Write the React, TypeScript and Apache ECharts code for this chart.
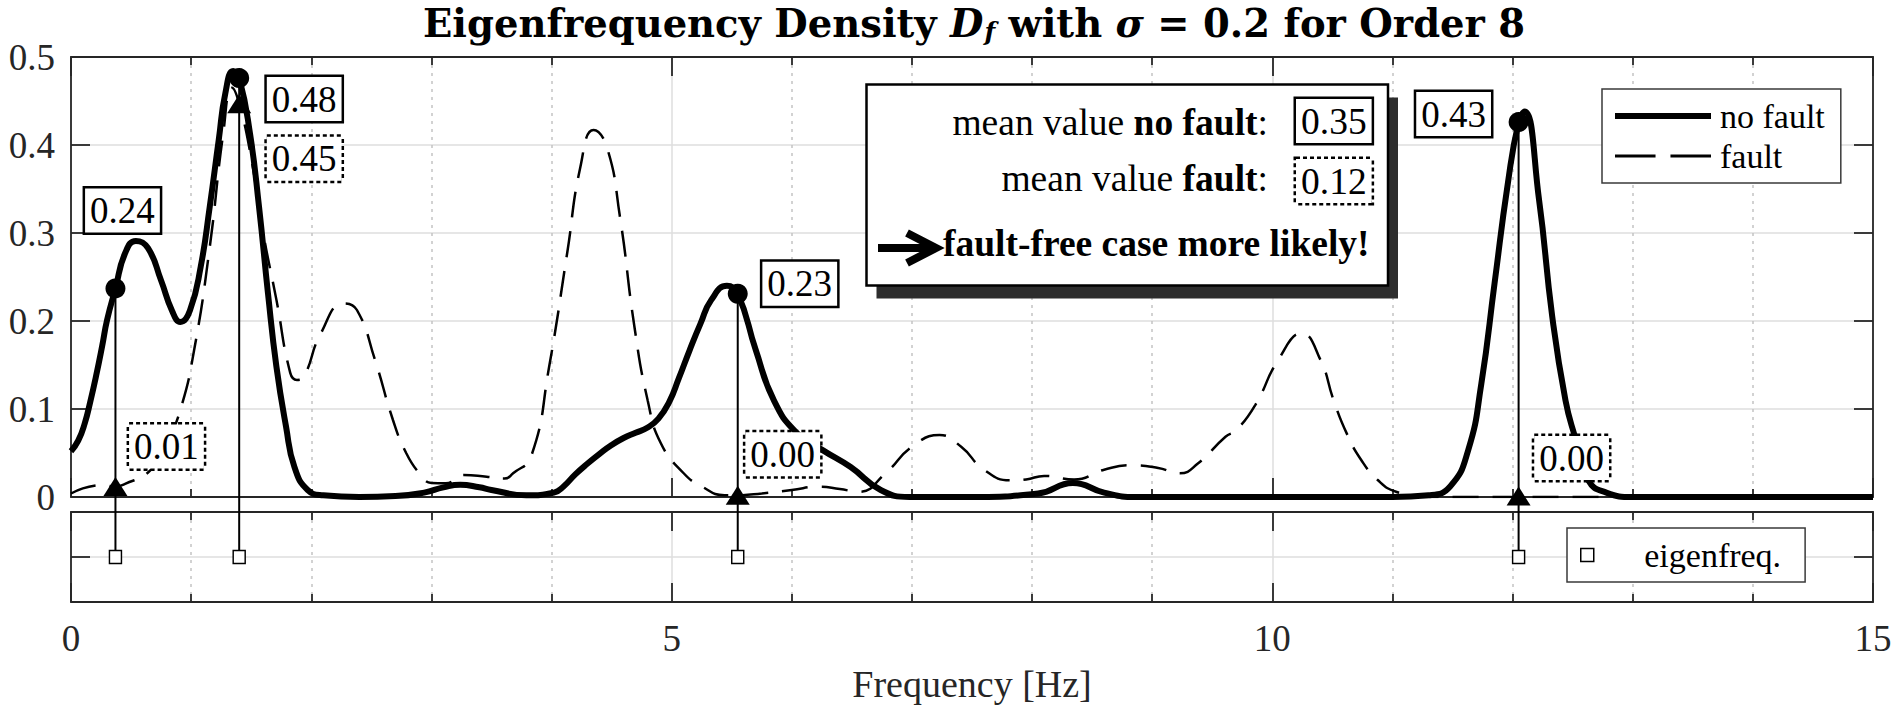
import React, { useEffect, useRef } from 'react';
import * as echarts from 'echarts';

// ---------- data ----------
const noFaultFreq = [0.0, 0.06, 0.115, 0.16, 0.208, 0.26, 0.3, 0.37, 0.45, 0.54, 0.64, 0.75, 0.84, 0.91, 0.99, 1.08, 1.155, 1.23, 1.285, 1.35, 1.4, 1.49, 1.565, 1.64, 1.71, 1.79, 1.86, 1.97, 2.1, 2.4, 2.7, 2.94, 3.1, 3.24, 3.4, 3.5, 3.79, 4.02, 4.1, 4.2, 4.3, 4.4, 4.5, 4.6, 4.7, 4.8, 4.89, 4.98, 5.06, 5.15, 5.24, 5.33, 5.46, 5.55, 5.7, 5.85, 6.04, 6.26, 6.49, 6.74, 6.98, 7.5, 8.05, 8.34, 8.6, 8.86, 11.0, 11.3, 11.48, 11.63, 11.74, 11.85, 11.96, 12.05, 12.1, 12.22, 12.33, 12.44, 12.52, 12.63, 12.78, 13.0, 15.0];
const noFaultDensity = [0.052, 0.064, 0.084, 0.108, 0.137, 0.172, 0.201, 0.237, 0.277, 0.291, 0.283, 0.246, 0.212, 0.199, 0.212, 0.262, 0.33, 0.406, 0.459, 0.484, 0.476, 0.413, 0.33, 0.231, 0.148, 0.08, 0.034, 0.008, 0.002, 0.0, 0.001, 0.005, 0.011, 0.014, 0.011, 0.008, 0.002, 0.005, 0.012, 0.026, 0.038, 0.049, 0.059, 0.067, 0.073, 0.079, 0.089, 0.108, 0.135, 0.167, 0.197, 0.224, 0.24, 0.231, 0.167, 0.11, 0.073, 0.053, 0.034, 0.008, 0.0, 0.0, 0.004, 0.016, 0.005, 0.0, 0.0, 0.002, 0.012, 0.053, 0.129, 0.243, 0.356, 0.426, 0.438, 0.338, 0.205, 0.11, 0.068, 0.019, 0.005, 0.0, 0.0];

const faultFreq = [0.0, 0.26, 0.37, 0.45, 0.65, 0.78, 0.91, 1.025, 1.155, 1.267, 1.34, 1.4, 1.5, 1.6, 1.71, 1.825, 1.88, 1.94, 2.08, 2.27, 2.38, 2.53, 2.68, 2.79, 2.9, 3.0, 3.12, 3.27, 3.46, 3.61, 3.68, 3.83, 3.98, 4.13, 4.24, 4.35, 4.46, 4.57, 4.69, 4.8, 4.91, 5.1, 5.25, 5.44, 5.55, 5.75, 6.0, 6.225, 6.4, 6.56, 6.78, 7.0, 7.23, 7.41, 7.6, 7.82, 7.95, 8.1, 8.35, 8.6, 8.82, 9.05, 9.23, 9.38, 9.61, 9.7, 9.86, 10.05, 10.245, 10.4, 10.51, 10.62, 10.74, 10.88, 11.03, 11.3, 15.0];
const faultDensity = [0.004, 0.0136, 0.012, 0.015, 0.029, 0.055, 0.099, 0.167, 0.284, 0.413, 0.465, 0.447, 0.385, 0.3, 0.224, 0.141, 0.133, 0.137, 0.186, 0.22, 0.2125, 0.156, 0.0875, 0.05, 0.027, 0.016, 0.0155, 0.025, 0.023, 0.021, 0.027, 0.046, 0.148, 0.277, 0.375, 0.417, 0.398, 0.318, 0.1935, 0.11, 0.061, 0.027, 0.012, 0.002, 0.002, 0.004, 0.008, 0.0117, 0.009, 0.006, 0.027, 0.057, 0.0705, 0.057, 0.031, 0.019, 0.02, 0.024, 0.02, 0.031, 0.036, 0.033, 0.027, 0.038, 0.0685, 0.076, 0.105, 0.156, 0.186, 0.156, 0.11, 0.072, 0.042, 0.019, 0.006, 0.0, 0.0];

const eigenFreqs = [0.37, 1.4, 5.55, 12.05];
const noFaultAtEigen = [0.237, 0.476, 0.231, 0.426];
const faultAtEigen = [0.012, 0.447, 0.002, 0.001];
const meanNoFault = 0.35;
const meanFault = 0.12;

const seriesNames = ['no fault', 'fault', 'eigenfreq.'];
const xAxisName = 'Frequency [Hz]';
const conclusionText = 'fault-free case more likely!';

// ---------- styling ----------
const FONT = "'Liberation Serif', 'Times New Roman', serif";
const TITLE_FONT = "'DejaVu Serif', serif";
const AXIS = '#262626';
const GRID = '#dedede';
const MINOR = '#c4c4c4';

export default function App() {
  const ref = useRef<HTMLDivElement>(null);

  useEffect(() => {
    const chart = echarts.init(ref.current!, null, { renderer: 'svg' });

    const axisLine = { show: true, onZero: false, lineStyle: { color: AXIS, width: 1.8 } };
    const axisTick = { show: true, inside: true, length: 19, lineStyle: { color: AXIS, width: 1.8 } };
    const minorTick = { show: true, splitNumber: 5, length: 8, lineStyle: { color: AXIS, width: 1.8 } };
    const noLabel = { show: false };
    const tickFont = { fontFamily: FONT, fontSize: 37, color: AXIS };

    const xAxis = (gridIndex: number, position: string, showLabel: boolean, showGrid: boolean, extra: any = {}) => ({
      type: 'value',
      gridIndex,
      position,
      min: 0,
      max: 15,
      interval: 5,
      axisLine,
      axisTick,
      minorTick,
      axisLabel: showLabel ? { ...tickFont, margin: 18 } : noLabel,
      splitLine: { show: showGrid, lineStyle: { color: GRID, width: 1.5 } },
      minorSplitLine: { show: showGrid, lineStyle: { color: MINOR, width: 1.5, type: [3, 5] } },
      ...extra,
    });

    const yAxis = (gridIndex: number, position: string, min: number, max: number, interval: number, showLabel: boolean, showGrid: boolean) => ({
      type: 'value',
      gridIndex,
      position,
      min,
      max,
      interval,
      axisLine,
      axisTick,
      axisLabel: showLabel ? { ...tickFont, margin: 16 } : noLabel,
      splitLine: { show: showGrid, lineStyle: { color: GRID, width: 1.5 } },
    });

    const nfOffsets = [[7, -78], [65, 21], [62, -10], [-65, -8]];
    const fOffsets = [[51, -40], [65, 55], [45, -41], [53, -38]];
    const boxLabel = {
      show: true,
      position: 'inside',
      fontFamily: FONT,
      fontSize: 37,
      lineHeight: 36,
      color: '#000',
      opacity: 1,
      backgroundColor: '#fff',
      borderColor: '#000',
      borderWidth: 2.5,
      padding: [5, 5, 3, 5],
      formatter: (p: any) => Number(p.value[1]).toFixed(2),
    };

    const titleMain = { fontFamily: TITLE_FONT, fontSize: 38.5, lineHeight: 38, verticalAlign: 'top', color: '#000' };

    const option: any = {
      animation: false,
      backgroundColor: '#fff',
      title: {
        text: '{b|Eigenfrequency Density }{i|D}{s|f}{b| with }{i|σ}{r| = }{b|0.2 for Order 8}',
        left: 423,
        top: 4,
        padding: 0,
        textStyle: {
          rich: {
            b: { ...titleMain, fontWeight: 'bold' },
            i: { ...titleMain, fontStyle: 'italic' },
            r: { ...titleMain },
            s: { fontFamily: TITLE_FONT, fontStyle: 'italic', fontSize: 25, lineHeight: 25, verticalAlign: 'top', padding: [15, 0, 0, 1], color: '#000' },
          },
        },
      },
      grid: [
        { left: 71, top: 57, width: 1802, height: 440 },
        { left: 71, top: 512, width: 1802, height: 90 },
      ],
      xAxis: [
        xAxis(0, 'bottom', false, true),
        xAxis(0, 'top', false, false),
        xAxis(1, 'bottom', true, true, {
          name: xAxisName,
          nameLocation: 'middle',
          nameGap: 63,
          nameTextStyle: { fontFamily: FONT, fontSize: 38, color: AXIS },
        }),
        xAxis(1, 'top', false, false),
      ],
      yAxis: [
        yAxis(0, 'left', 0, 0.5, 0.1, true, true),
        yAxis(0, 'right', 0, 0.5, 0.1, false, false),
        yAxis(1, 'left', -1, 1, 1, false, true),
        yAxis(1, 'right', -1, 1, 1, false, false),
      ],
      legend: [
        {
          data: [
            { name: seriesNames[0], icon: 'path://M0,0H96V6H0Z' },
            { name: seriesNames[1], icon: 'path://M0,0H38V3H0ZM52,0H90V3H52Z' },
          ],
          orient: 'vertical',
          left: 1602,
          top: 89,
          padding: [10, 16, 10, 13],
          itemGap: 6,
          itemWidth: 96,
          itemHeight: 34,
          selectedMode: false,
          backgroundColor: '#fff',
          borderColor: '#3a3a3a',
          borderWidth: 1.5,
          itemStyle: { borderWidth: 0, color: '#000', opacity: 1 },
          textStyle: { fontFamily: FONT, fontSize: 34, lineHeight: 34, color: '#000', padding: [0, 0, 0, 4] },
          z: 8,
        },
        {
          data: [{ name: seriesNames[2], icon: 'path://M0,0H10V10H0Z' }],
          orient: 'vertical',
          left: 1567,
          top: 528,
          padding: [10, 24, 10, 13],
          itemWidth: 96,
          itemHeight: 13,
          selectedMode: false,
          backgroundColor: '#fff',
          borderColor: '#3a3a3a',
          borderWidth: 1.5,
          itemStyle: { color: '#fff', borderColor: '#000', borderWidth: 1.5, opacity: 1 },
          textStyle: { fontFamily: FONT, fontSize: 34, lineHeight: 34, color: '#000', padding: [0, 0, 0, 4] },
          z: 8,
        },
      ],
      series: [
        {
          name: seriesNames[1],
          type: 'line',
          xAxisIndex: 0,
          yAxisIndex: 0,
          data: faultFreq.map((f, i) => [f, faultDensity[i]]),
          symbol: 'none',
          smooth: 0.5,
          itemStyle: { color: '#000' },
          lineStyle: { color: '#000', width: 2.5, type: [26, 14] },
          z: 2,
        },
        {
          name: seriesNames[0],
          type: 'line',
          xAxisIndex: 0,
          yAxisIndex: 0,
          data: noFaultFreq.map((f, i) => [f, noFaultDensity[i]]),
          symbol: 'none',
          smooth: 0.5,
          itemStyle: { color: '#000' },
          lineStyle: { color: '#000', width: 6 },
          z: 3,
        },
        {
          name: 'noFaultAtEigen',
          type: 'scatter',
          xAxisIndex: 0,
          yAxisIndex: 0,
          symbol: 'circle',
          symbolSize: 20,
          itemStyle: { color: '#000', opacity: 1 },
          data: eigenFreqs.map((f, i) => ({ value: [f, noFaultAtEigen[i]], label: { offset: nfOffsets[i] } })),
          label: boxLabel,
          z: 7,
        },
        {
          name: 'faultAtEigen',
          type: 'scatter',
          xAxisIndex: 0,
          yAxisIndex: 0,
          symbol: 'triangle',
          symbolSize: [24, 19],
          itemStyle: { color: '#000', opacity: 1 },
          data: eigenFreqs.map((f, i) => ({ value: [f, faultAtEigen[i]], label: { offset: fOffsets[i] } })),
          label: { ...boxLabel, borderType: [4, 3] },
          z: 6,
        },
        {
          name: seriesNames[2],
          type: 'scatter',
          xAxisIndex: 2,
          yAxisIndex: 2,
          symbol: 'rect',
          symbolSize: [12, 13],
          itemStyle: { color: '#fff', borderColor: '#000', borderWidth: 1.5, opacity: 1 },
          data: eigenFreqs.map((f) => [f, 0]),
          z: 6,
        },
      ],
    };

    chart.setOption(option);

    const stems = eigenFreqs.map((f, i) => {
      const top = chart.convertToPixel({ seriesIndex: 2 }, [f, noFaultAtEigen[i]]) as number[];
      const bot = chart.convertToPixel({ seriesIndex: 4 }, [f, 0]) as number[];
      return {
        type: 'line',
        z: 4,
        shape: { x1: bot[0], y1: bot[1], x2: top[0], y2: top[1] },
        style: { stroke: '#000', lineWidth: 2 },
      };
    });

    const txt = { fontFamily: FONT, fontSize: 37.5, fill: '#000' };
    const annotation = [
      { type: 'rect', z: 10, shape: { x: 876.5, y: 97.5, width: 521.5, height: 201 }, style: { fill: '#2d2d2d' } },
      { type: 'rect', z: 11, shape: { x: 866.5, y: 84.5, width: 521.5, height: 201 }, style: { fill: '#fff', stroke: '#000', lineWidth: 2.5 } },
      {
        type: 'text', z: 12, x: 1268, y: 122,
        style: { ...txt, text: 'mean value {b|no fault}:', align: 'right', verticalAlign: 'middle', rich: { b: { ...txt, fontWeight: 'bold' } } },
      },
      {
        type: 'text', z: 12, x: 1296, y: 121,
        style: { ...txt, text: meanNoFault.toFixed(2), align: 'left', verticalAlign: 'middle', lineHeight: 36, backgroundColor: '#fff', borderColor: '#000', borderWidth: 2.5, padding: [5, 5, 3, 5] },
      },
      {
        type: 'text', z: 12, x: 1268, y: 178,
        style: { ...txt, text: 'mean value {b|fault}:', align: 'right', verticalAlign: 'middle', rich: { b: { ...txt, fontWeight: 'bold' } } },
      },
      {
        type: 'text', z: 12, x: 1296, y: 181,
        style: { ...txt, text: meanFault.toFixed(2), align: 'left', verticalAlign: 'middle', lineHeight: 36, backgroundColor: '#fff', borderColor: '#000', borderWidth: 2.5, borderDash: [4, 3], padding: [5, 5, 3, 5] },
      },
      { type: 'polyline', z: 12, shape: { points: [[878, 248], [930, 248]] }, style: { stroke: '#000', lineWidth: 8, fill: null } },
      { type: 'polyline', z: 12, shape: { points: [[907, 233], [936, 248], [907, 263]] }, style: { stroke: '#000', lineWidth: 8, fill: null, lineJoin: 'miter' } },
      {
        type: 'text', z: 12, x: 943, y: 243,
        style: { ...txt, text: conclusionText, fontWeight: 'bold', align: 'left', verticalAlign: 'middle' },
      },
    ];

    chart.setOption({ graphic: [...stems, ...annotation] });

    return () => chart.dispose();
  }, []);

  return (
    <div
      ref={ref}
      style={{ position: 'fixed', left: 0, top: 0, width: 1900, height: 707, background: '#fff' }}
    />
  );
}
